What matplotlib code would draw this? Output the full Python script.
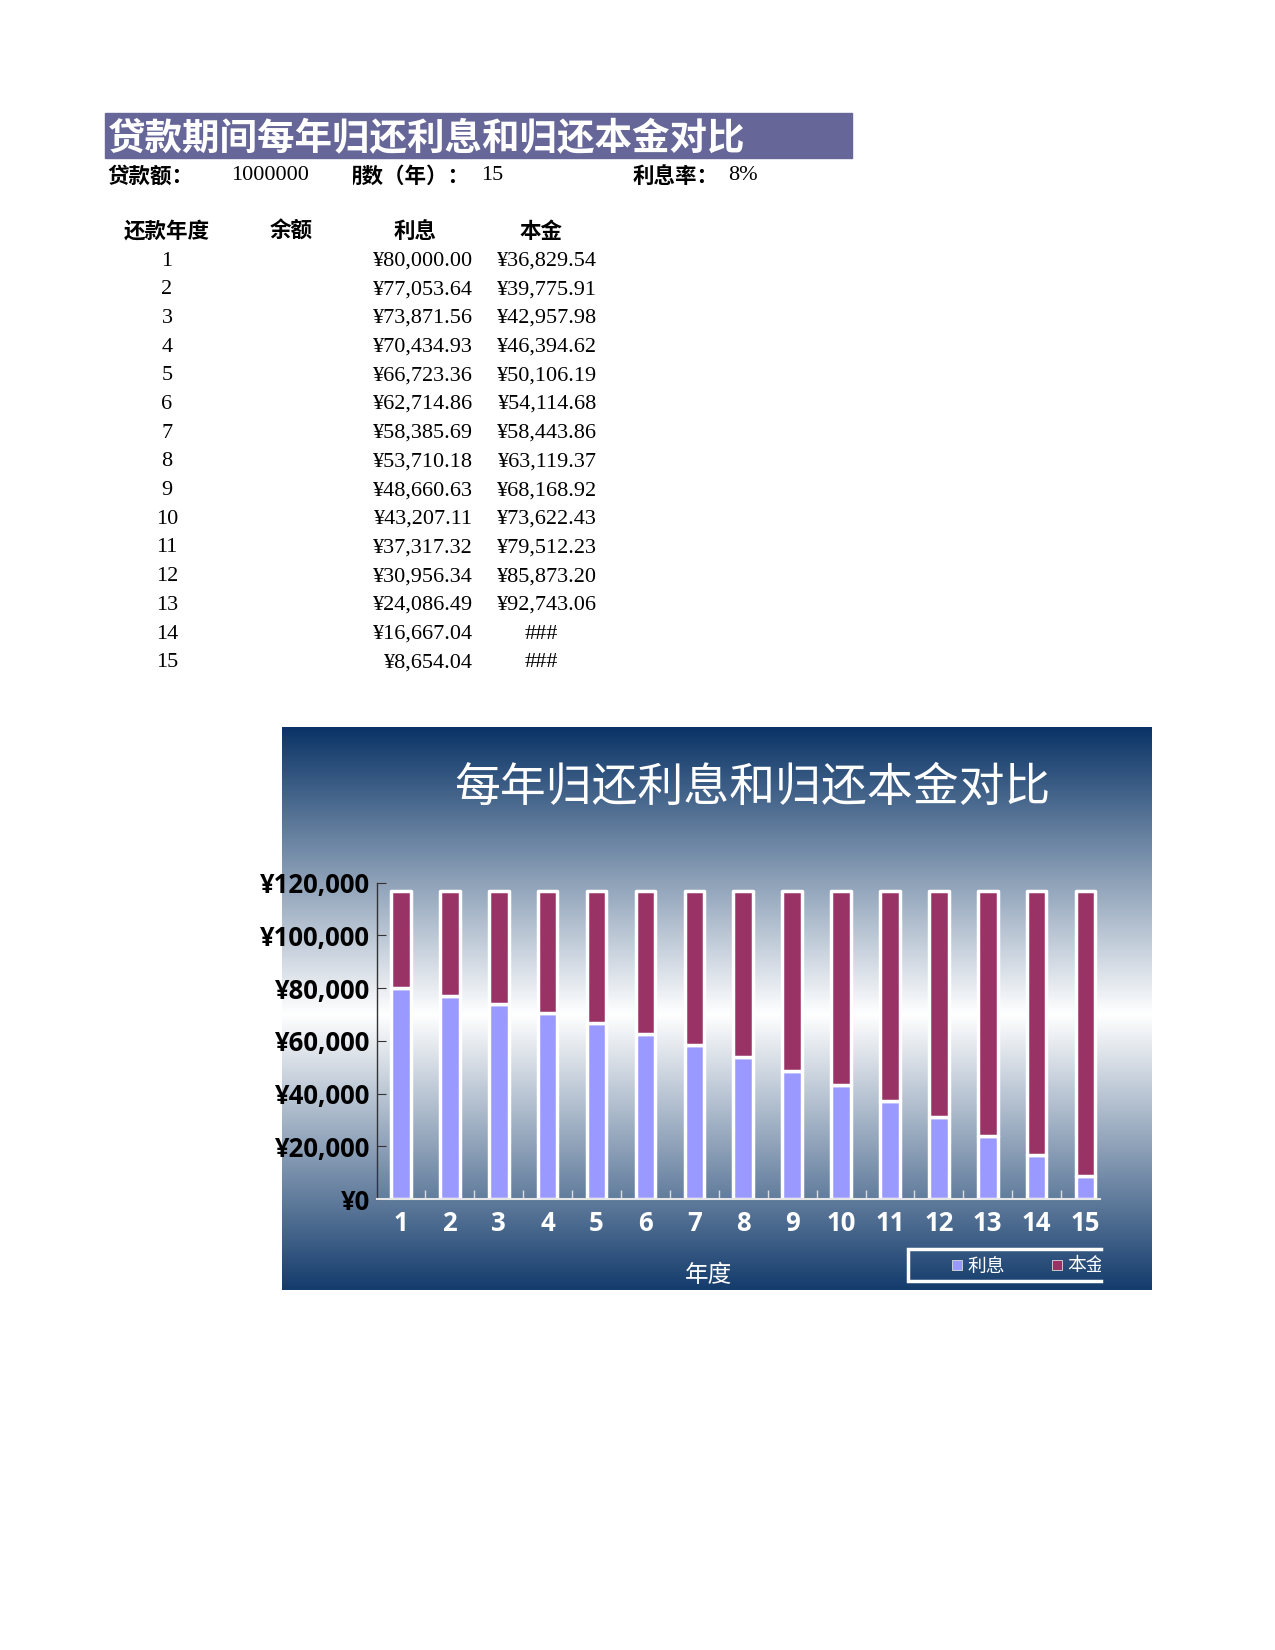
# loan repayment sheet: interest vs principal per year

import numpy as np
import matplotlib.pyplot as plt
from matplotlib.patches import Rectangle
from matplotlib.transforms import Bbox, TransformedBbox

# data read from the sheet
years = list(range(1, 16))
interest = [80000.00, 77053.64, 73871.56, 70434.93, 66723.36, 62714.86, 58385.69,
            53710.18, 48660.63, 43207.11, 37317.32, 30956.34, 24086.49, 16667.04, 8654.04]
principal = [36829.54, 39775.91, 42957.98, 46394.62, 50106.19, 54114.68, 58443.86,
             63119.37, 68168.92, 73622.43, 79512.23, 85873.20, 92743.06, 100162.50, 108175.50]
loan_amount = '1000000'
loan_years = '15'
loan_rate = '8%'
col_headers = ['还款年度', '余额', '利息', '本金']
series_names = ['利息', '本金']

CJK = ['Noto Sans CJK SC', 'DejaVu Sans']
SERIF = ['Liberation Serif', 'DejaVu Serif']
SANS = ['Open Sans', 'DejaVu Sans']

fig = plt.figure(figsize=(12.75, 16.5), dpi=100)
fig.patch.set_facecolor('white')

# page axes in pixel coords
page = fig.add_axes([0, 0, 1, 1])
page.set_xlim(0, 1275)
page.set_ylim(1650, 0)
page.axis('off')

# title bar
page.add_patch(Rectangle((105, 113), 747, 45, color='#666699', zorder=1))
page.text(108, 139, '贷款期间每年归还利息和归还本金对比', color='white', fontsize=27,
          fontweight='bold', family=CJK, va='center', ha='left', zorder=2)

# loan info row
y_info = 176
page.text(107, y_info, '贷款额：', fontsize=15.5, fontweight='bold', family=CJK, va='center')
page.text(231, y_info, loan_amount, fontsize=16, family=SERIF, va='center')
t = page.text(341, y_info, '期数（年）：', fontsize=15.5, fontweight='bold', family=CJK,
              va='center', clip_on=True)
t.set_clip_box(TransformedBbox(Bbox([[353, 0], [700, 1650]]), page.transData))
page.text(481, y_info, loan_years, fontsize=16, family=SERIF, va='center')
page.text(633, y_info, '利息率：', fontsize=15.5, fontweight='bold', family=CJK, va='center')
page.text(728, y_info, loan_rate, fontsize=16, family=SERIF, va='center')

# table
head_x = [167, 291, 415, 541]
for hx, h in zip(head_x, col_headers):
    page.text(hx, 231, h, fontsize=15.5, fontweight='bold', family=CJK, ha='center', va='center')

row_y0, row_h = 261, 28.7
for i, (yr, it, pr) in enumerate(zip(years, interest, principal)):
    y = row_y0 + row_h * i
    page.text(167, y, str(yr), fontsize=16, family=SERIF, ha='center', va='center')
    page.text(473, y, f'¥{it:,.2f}', fontsize=16, family=SERIF, ha='right', va='center')
    if pr >= 100000:
        # column too narrow
        page.text(541, y, '###', fontsize=16, family=SERIF, ha='center', va='center')
    else:
        page.text(597, y, f'¥{pr:,.2f}', fontsize=16, family=SERIF, ha='right', va='center')

# chart panel gradient: navy -> white -> navy
navy = np.array([10, 52, 102]) / 255.0
tt = np.linspace(0, 1, 400)
w = np.clip(1 - np.abs(tt - 0.51) / 0.51, 0, 1)[:, None]
grad = navy + (1 - navy) * w
page.imshow(grad[:, None, :], extent=(282, 1152, 1290, 727), aspect='auto', zorder=0)

page.text(752, 788, '每年归还利息和归还本金对比', fontsize=33, color='white', family=CJK,
          ha='center', va='center')
page.text(708, 1275, '年度', fontsize=17, color='white', family=CJK, ha='center', va='center')

# plot area
x0, cat_w = 376.5, 48.9
ax = fig.add_axes([x0 / 1275, 1 - 1199 / 1650, 15 * cat_w / 1275, (1199 - 882.7) / 1650])
ax.patch.set_alpha(0)
b1 = ax.bar(years, interest, width=0.4, color='#9999FF', edgecolor='white',
            linewidth=2.5, joinstyle='round')
b2 = ax.bar(years, principal, bottom=interest, width=0.4, color='#993366',
            edgecolor='white', linewidth=2.5, joinstyle='round')

ax.set_xlim(0.5, 15.5)
ax.set_ylim(0, 120000)
ax.set_yticks(range(0, 120001, 20000))
ax.yaxis.set_major_formatter(lambda v, p: f'¥{v:,.0f}')
ax.set_xticks(years)
ax.set_xticks(np.arange(1.5, 15, 1), minor=True)

for s in ['top', 'right']:
    ax.spines[s].set_visible(False)
ax.spines['left'].set_color('#333333')
ax.spines['left'].set_linewidth(1)
ax.spines['bottom'].set_color('#e6e6e6')
ax.spines['bottom'].set_linewidth(1.5)
ax.spines['bottom'].set_bounds(0.5, 0.5 + (1100 - x0) / cat_w)

ax.tick_params(axis='y', direction='in', length=6.5, color='#333333', pad=4.5)
ax.tick_params(axis='x', which='major', length=0, labelcolor='white', pad=8)
ax.tick_params(axis='x', which='minor', direction='in', length=6.5, color='#dddddd', width=1)
for lab in ax.get_yticklabels() + ax.get_xticklabels():
    lab.set_fontfamily(SANS)
    lab.set_fontweight('bold')
    lab.set_fontsize(18.5)

# legend box (right side cut off in the sheet)
page.plot([1101, 908, 908, 1101], [1249, 1249, 1281, 1281], color='white', lw=2.5,
          solid_joinstyle='miter')
leg_x = [952, 1052]
for lx, name, bars in zip(leg_x, series_names, [b1, b2]):
    page.add_patch(Rectangle((lx, 1259.5), 10, 10.5, facecolor=bars.patches[0].get_facecolor(),
                             edgecolor='#dddddd', lw=0.6))
    lt = page.text(lx + 15, 1266, name, fontsize=13.5, color='white', family=CJK,
                   va='center', clip_on=True)
    lt.set_clip_box(TransformedBbox(Bbox([[0, 0], [1101, 1650]]), page.transData))

fig.savefig('out.png', dpi=100)
